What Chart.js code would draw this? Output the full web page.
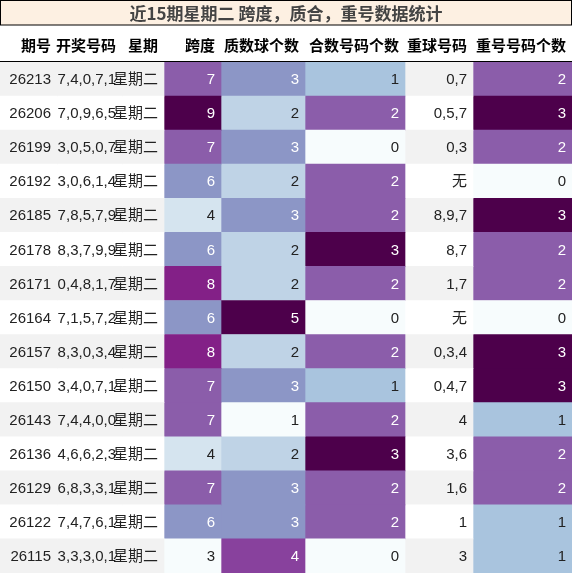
<!DOCTYPE html>
<html lang="zh">
<head>
<meta charset="UTF-8" />
<title>近15期星期二 跨度，质合，重号数据统计</title>
<script src="https://cdn.jsdelivr.net/npm/chart.js"></script>
<style>
  body { margin: 0; background: #fff; }
  #wrap { width: 572px; height: 573px; }
</style>
</head>
<body>
<div id="wrap"><canvas id="tbl" width="572" height="573"></canvas></div>
<script>
const title = "近15期星期二 跨度，质合，重号数据统计";
const headers = ["期号", "开奖号码", "星期", "跨度", "质数球个数", "合数号码个数", "重球号码", "重号号码个数"];
const periods = ["26213","26206","26199","26192","26185","26178","26171","26164","26157","26150","26143","26136","26129","26122","26115"];
const draws = ["7,4,0,7,1","7,0,9,6,5","3,0,5,0,7","3,0,6,1,4","7,8,5,7,9","8,3,7,9,9","0,4,8,1,7","7,1,5,7,2","8,3,0,3,4","3,4,0,7,1","7,4,4,0,0","4,6,6,2,3","6,8,3,3,1","7,4,7,6,1","3,3,3,0,1"];
const weekday = periods.map(() => "星期二");
const span = [7,9,7,6,4,6,8,6,8,7,7,4,7,6,3];
const primeCount = [3,2,3,2,3,2,2,5,2,3,1,2,3,3,4];
const compositeCount = [1,2,0,2,2,3,2,0,2,1,2,3,2,2,0];
const repeatBalls = ["0,7","0,5,7","0,3","无","8,9,7","8,7","1,7","无","0,3,4","0,4,7","4","3,6","1,6","1","3"];
const repeatCount = [2,3,2,0,3,2,2,0,3,3,1,2,2,1,1];

// layout
const colWidths = [57, 65, 42, 57, 84, 100, 68, 99];
const columns = [periods, draws, weekday, span, primeCount, compositeCount, repeatBalls, repeatCount];
const shaded = [false, false, false, true, true, true, false, true];

const BuPu = ["#f7fcfd","#e0ecf4","#bfd3e6","#9ebcda","#8c96c6","#8c6bb1","#88419d","#810f7c","#4d004b"];
function hex(c) { return [1,3,5].map(i => parseInt(c.substr(i,2),16)); }
function bupu(t) {
  const p = t * (BuPu.length - 1), i = Math.min(Math.floor(p), BuPu.length - 2), f = p - i;
  const a = hex(BuPu[i]), b = hex(BuPu[i+1]);
  return "rgb(" + a.map((v,k) => Math.round(v + (b[k]-v)*f)).join(",") + ")";
}
function norm(arr) {
  const mn = Math.min(...arr), mx = Math.max(...arr);
  return arr.map(v => (v - mn) / (mx - mn));
}

const rowBg = periods.map((_, i) => i % 2 === 0 ? "#f2f2f2" : "#ffffff");
const datasets = columns.map((col, c) => {
  const t = shaded[c] ? norm(col) : null;
  return {
    label: headers[c],
    data: col.map(() => colWidths[c]),
    backgroundColor: shaded[c] ? t.map(bupu) : rowBg,
    textColor: shaded[c] ? t.map(v => v >= 0.5 ? "#ffffff" : "#222222") : col.map(() => "#222222"),
    cellText: col.map(String),
    barPercentage: 1,
    categoryPercentage: 1,
    borderWidth: 0
  };
});

const tablePlugin = {
  id: "tablePlugin",
  afterDatasetsDraw(chart) {
    const ctx = chart.ctx;
    ctx.save();
    // title box
    ctx.fillStyle = "#fdf0e2";
    ctx.fillRect(0.5, 0.5, 571, 24.5);
    ctx.strokeStyle = "#000";
    ctx.lineWidth = 1;
    ctx.strokeRect(0.5, 0.5, 571, 24.5);
    ctx.fillStyle = "#444";
    ctx.font = "bold 17px 'Noto Sans CJK SC', sans-serif";
    ctx.textAlign = "center";
    ctx.textBaseline = "middle";
    ctx.fillText(title, 286, 13.5);
    // headers + cells
    ctx.textAlign = "right";
    chart.data.datasets.forEach((ds, c) => {
      const meta = chart.getDatasetMeta(c);
      const right = meta.data[0].x;
      ctx.fillStyle = "#000";
      ctx.font = "bold 15px 'Noto Sans CJK SC', sans-serif";
      ctx.fillText(headers[c], right - 6, 45);
      ctx.font = "15px 'Liberation Sans', 'Noto Sans CJK SC', sans-serif";
      meta.data.forEach((el, i) => {
        ctx.fillStyle = ds.textColor[i];
        ctx.fillText(ds.cellText[i], el.x - 6, el.y + 1);
      });
    });
    ctx.beginPath();
    ctx.moveTo(0, 61.5);
    ctx.lineTo(572, 61.5);
    ctx.strokeStyle = "#000";
    ctx.stroke();
    ctx.restore();
  }
};

new Chart(document.getElementById("tbl"), {
  type: "bar",
  data: { labels: periods, datasets },
  options: {
    indexAxis: "y",
    responsive: false,
    animation: false,
    layout: { padding: { top: 62, left: 0, right: 0, bottom: 0 } },
    scales: {
      x: { stacked: true, display: false, min: 0, max: 572 },
      y: { stacked: true, display: false }
    },
    plugins: { legend: { display: false }, tooltip: { enabled: false }, title: { display: false } }
  },
  plugins: [tablePlugin]
});
</script>
</body>
</html>
